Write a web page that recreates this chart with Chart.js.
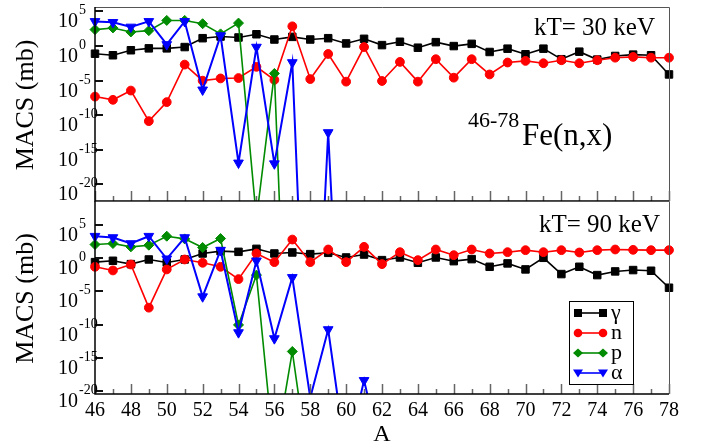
<!DOCTYPE html>
<html><head><meta charset="utf-8">
<script src="https://cdn.jsdelivr.net/npm/chart.js@4.4.1/dist/chart.umd.min.js"></script>
<style>
html,body{margin:0;padding:0;background:#fff;}
#wrap{position:relative;width:706px;height:445px;background:#fff;overflow:hidden;}
canvas{position:absolute;left:0;top:0;}
#fontprobe{position:absolute;left:-1000px;top:0;font-family:"Liberation Serif";font-size:20px;}
</style></head><body>
<div id="fontprobe">10 kT γ α</div>
<div id="wrap"><canvas id="c1" width="706" height="445"></canvas><canvas id="c2" width="706" height="445"></canvas></div>
<script>
// ---------- data ----------
const massNumber = [46,47,48,49,50,51,52,53,54,55,56,57,58,59,60,61,62,63,64,65,66,67,68,69,70,71,72,73,74,75,76,77,78];
const xTickLabels = [46,48,50,52,54,56,58,60,62,64,66,68,70,72,74,76,78];
const yTickExponents = [5,0,-5,-10,-15,-20];
const seriesNames = ['γ','n','p','α'];

// kT = 30 keV
const gamma30 = [7.9e-2,4.7e-2,2.5e-1,4.7e-1,4.7e-1,7.2e-1,13.8,24,17.4,51,8.9,21.4,8.9,13.8,2.4,11.2,1.38,4.2,0.58,3.7,1.0,2.1,0.14,0.42,0.065,0.42,0.0126,0.155,0.0112,0.037,0.058,0.047,7.9e-5];
const neutron30 = [5.0e-8,1.7e-8,3.7e-7,1.4e-11,7.9e-9,2.1e-3,1.0e-5,2.1e-5,2.4e-5,1.0e-3,1.3e-5,7.2e2,1.7e-5,7.2e-2,7.2e-6,7.2e-1,8.9e-6,5.1e-3,7.2e-6,1.26e-2,2.7e-5,1.26e-2,7.9e-5,4.2e-3,7.2e-3,3.3e-3,8.9e-3,3.3e-3,8.9e-3,2.1e-2,2.7e-2,2.1e-2,2.1e-2];
const proton30 = [2.4e2,4.2e2,1.1e2,1.7e2,5.1e3,5.1e3,1.7e3,5.8e1,2.1e3,1e-25,1.1e-4,1e-70,null,null,null,null,null,null,null,null,null,null,null,null,null,null,null,null,null,null,null,null,null];
const alpha30 = [3.7e3,2.7e3,5.8e2,3.7e3,1.7,3.7e3,4.7e-7,3.3e1,1.3e-17,7.2e-1,1e-17,4.2e-3,1e-65,3.2e-13,1e-64,null,null,null,null,null,null,null,null,null,null,null,null,null,null,null,null,null,null];

// kT = 90 keV
const gamma90 = [0.25,0.4,0.126,0.63,0.22,0.63,5.0,11.2,8.9,25,5.0,7.1,4.0,6.3,1.26,3.5,0.5,1.26,0.2,1.26,0.35,0.71,0.05,0.16,0.02,1.12,4e-3,0.05,2.8e-3,1e-2,1.6e-2,1.26e-2,3.5e-5];
const neutron90 = [0.05,0.014,0.11,3.5e-8,0.02,0.63,0.2,0.05,7e-4,5.0,0.25,630,0.25,20,0.25,50,0.126,7.9,0.5,20,2.8,20,5.0,7.9,15.8,7.9,15.8,7.1,15.8,20,17.8,15.8,15.8];
const proton90 = [112,158,50,89,2000,790,40,890,8.9e-11,2.8e-3,1e-30,8.9e-15,1e-33,null,null,null,null,null,null,null,null,null,null,null,null,null,null,null,null,null,null,null,null];
const alpha90 = [2000,1260,158,2000,0.8,1260,1.6e-6,15.8,6.3e-12,0.4,7.9e-13,1.26e-3,1e-21,1.8e-11,1e-30,4e-19,1e-30,null,null,null,null,null,null,null,null,null,null,null,null,null,null,null,null];

// ---------- styling ----------
const FONT = '"Liberation Serif", serif';
const COLORS = ['#000000','#ff0000','#008b00','#0000ff'];
const STYLES = [
  {pointStyle:'rect', radius:5.3, rotation:0},
  {pointStyle:'circle', radius:4.4, rotation:0},
  {pointStyle:'rectRot', radius:5, rotation:0},
  {pointStyle:'triangle', radius:5.6, rotation:180}
];

function buildDatasets(list){
  return list.map((vals,i)=>({
    label: seriesNames[i],
    data: massNumber.map((a,k)=>({x:a, y:vals[k]})),
    borderColor: COLORS[i],
    backgroundColor: COLORS[i],
    borderWidth: i===3 ? 2 : 1.6,
    pointStyle: STYLES[i].pointStyle,
    pointRadius: STYLES[i].radius,
    pointRotation: STYLES[i].rotation,
    pointBorderWidth: 1,
    pointBackgroundColor: COLORS[i],
    pointBorderColor: COLORS[i],
    tension: 0,
    spanGaps: false,
    order: 4 - i,
    clip: {left: 8, right: 8, top: 8, bottom: 0}
  }));
}

function drawLegendMarker(ctx, i, x, y){
  ctx.fillStyle = COLORS[i];
  ctx.beginPath();
  if (i===0){ ctx.rect(x-4, y-4, 8, 8); }
  else if (i===1){ ctx.arc(x, y, 4.3, 0, Math.PI*2); }
  else if (i===2){ ctx.moveTo(x, y-4.5); ctx.lineTo(x+5, y); ctx.lineTo(x, y+4.5); ctx.lineTo(x-5, y); ctx.closePath(); }
  else { ctx.moveTo(x-5, y-3.5); ctx.lineTo(x+5, y-3.5); ctx.lineTo(x, y+4.5); ctx.closePath(); }
  ctx.fill();
}

function framePlugin(panel){
  return {
    id: 'frame',
    afterDraw(chart){
      const ctx = chart.ctx, a = chart.chartArea, xs = chart.scales.x, ys = chart.scales.y;
      ctx.save();
      ctx.strokeStyle = '#555'; ctx.lineWidth = 1;
      ctx.beginPath();
      ctx.moveTo(a.left, a.top + 0.5); ctx.lineTo(a.right + 0.5, a.top + 0.5); ctx.lineTo(a.right + 0.5, a.bottom);
      ctx.stroke();
      ctx.strokeStyle = '#666'; ctx.lineWidth = 1.5;
      for (const v of massNumber){
        const px = Math.round(xs.getPixelForValue(v)) + 0.5;
        const len = (v % 2 === 0) ? 10 : 5;
        ctx.beginPath(); ctx.moveTo(px, a.bottom); ctx.lineTo(px, a.bottom - len); ctx.stroke();
      }
      ctx.strokeStyle = '#111'; ctx.lineWidth = 2;
      for (const e of yTickExponents){
        const py = Math.round(ys.getPixelForValue(Math.pow(10, e)));
        ctx.beginPath(); ctx.moveTo(a.left, py); ctx.lineTo(a.left + 8, py); ctx.stroke();
      }
      ctx.strokeStyle = '#000'; ctx.lineWidth = 1.5;
      ctx.beginPath(); ctx.moveTo(a.left, a.top); ctx.lineTo(a.left, a.bottom); ctx.lineTo(a.right, a.bottom); ctx.stroke();
      ctx.fillStyle = '#000'; ctx.textAlign = 'left'; ctx.textBaseline = 'alphabetic';
      for (const e of yTickExponents){
        const py = ys.getPixelForValue(Math.pow(10, e));
        ctx.font = '20px ' + FONT;
        ctx.fillText('10', 58, py + 16);
        const w = ctx.measureText('10').width;
        ctx.font = '14px ' + FONT;
        ctx.fillText(String(e), 58 + w + 1, py + 3);
      }
      ctx.save();
      ctx.font = '26px ' + FONT; ctx.textAlign = 'center'; ctx.textBaseline = 'alphabetic';
      ctx.translate(33, (a.top + a.bottom) / 2 + 1);
      ctx.rotate(-Math.PI / 2);
      ctx.fillText('MACS (mb)', 0, 0);
      ctx.restore();
      ctx.font = '25px ' + FONT; ctx.textAlign = 'right'; ctx.fillStyle = '#000';
      ctx.fillText(panel.label, panel.labelX, panel.labelY);
      if (panel.top){
        ctx.textAlign = 'left';
        ctx.font = '22px ' + FONT;
        ctx.fillText('46-78', 468, 127);
        ctx.font = '31px ' + FONT;
        ctx.fillText('Fe(n,x)', 522, 145);
      } else {
        ctx.font = '24px ' + FONT; ctx.textAlign = 'center';
        ctx.fillText('A', (a.left + a.right) / 2, 441);
        ctx.strokeStyle = '#000'; ctx.lineWidth = 1;
        ctx.strokeRect(569.5, 301.5, 64, 83);
        const rows = [313, 333, 353, 373];
        rows.forEach((ry, i) => {
          ctx.strokeStyle = COLORS[i]; ctx.lineWidth = 1.6;
          ctx.beginPath(); ctx.moveTo(578, ry); ctx.lineTo(603, ry); ctx.stroke();
          drawLegendMarker(ctx, i, 578, ry);
          drawLegendMarker(ctx, i, 603, ry);
          ctx.fillStyle = '#000'; ctx.font = '22px ' + FONT; ctx.textAlign = 'left';
          ctx.fillText(seriesNames[i], 611, ry + 5.5);
        });
      }
      ctx.restore();
    }
  };
}

function makeChart(id, lists, panel){
  const xHeight = panel.top ? 445 - 201 : 445 - 394;
  return new Chart(document.getElementById(id), {
    type: 'line',
    data: { datasets: buildDatasets(lists) },
    options: {
      responsive: false, animation: false, devicePixelRatio: 1,
      events: [],
      layout: { autoPadding: false, padding: { top: panel.padTop, right: 37, left: 0, bottom: 0 } },
      plugins: { legend: { display: false }, tooltip: { enabled: false } },
      scales: {
        x: {
          type: 'linear', min: 46, max: 78,
          grid: { display: false, drawTicks: false },
          border: { display: false },
          afterBuildTicks: (s) => { s.ticks = xTickLabels.map(v => ({ value: v })); },
          ticks: { display: !panel.top, autoSkip: false, maxRotation: 0, padding: 5, color: '#000',
                   font: { family: FONT, size: 20 }, callback: (v) => String(v) },
          afterFit: (s) => { s.height = xHeight; }
        },
        y: {
          type: 'logarithmic', min: panel.yMin, max: panel.yMax,
          grid: { display: false, drawTicks: false },
          border: { display: false },
          afterBuildTicks: (s) => { s.ticks = yTickExponents.map(e => ({ value: Math.pow(10, e) })); },
          ticks: { display: false },
          afterFit: (s) => { s.width = 95; }
        }
      }
    },
    plugins: [framePlugin(panel)]
  });
}

function drawAll(){
  makeChart('c1', [gamma30, neutron30, proton30, alpha30],
    { top: true, padTop: 7, yMin: Math.pow(10, -22.4), yMax: Math.pow(10, 5.65), label: 'kT= 30 keV', labelX: 655, labelY: 35 });
  makeChart('c2', [gamma90, neutron90, proton90, alpha90],
    { top: false, padTop: 201, yMin: Math.pow(10, -20.45), yMax: Math.pow(10, 8.6), label: 'kT= 90 keV', labelX: 660, labelY: 232 });
}
Promise.all([
  document.fonts.load('20px "Liberation Serif"'),
  document.fonts.load('20px "Liberation Serif"', 'γα')
]).then(drawAll, drawAll);
</script>
</body></html>
